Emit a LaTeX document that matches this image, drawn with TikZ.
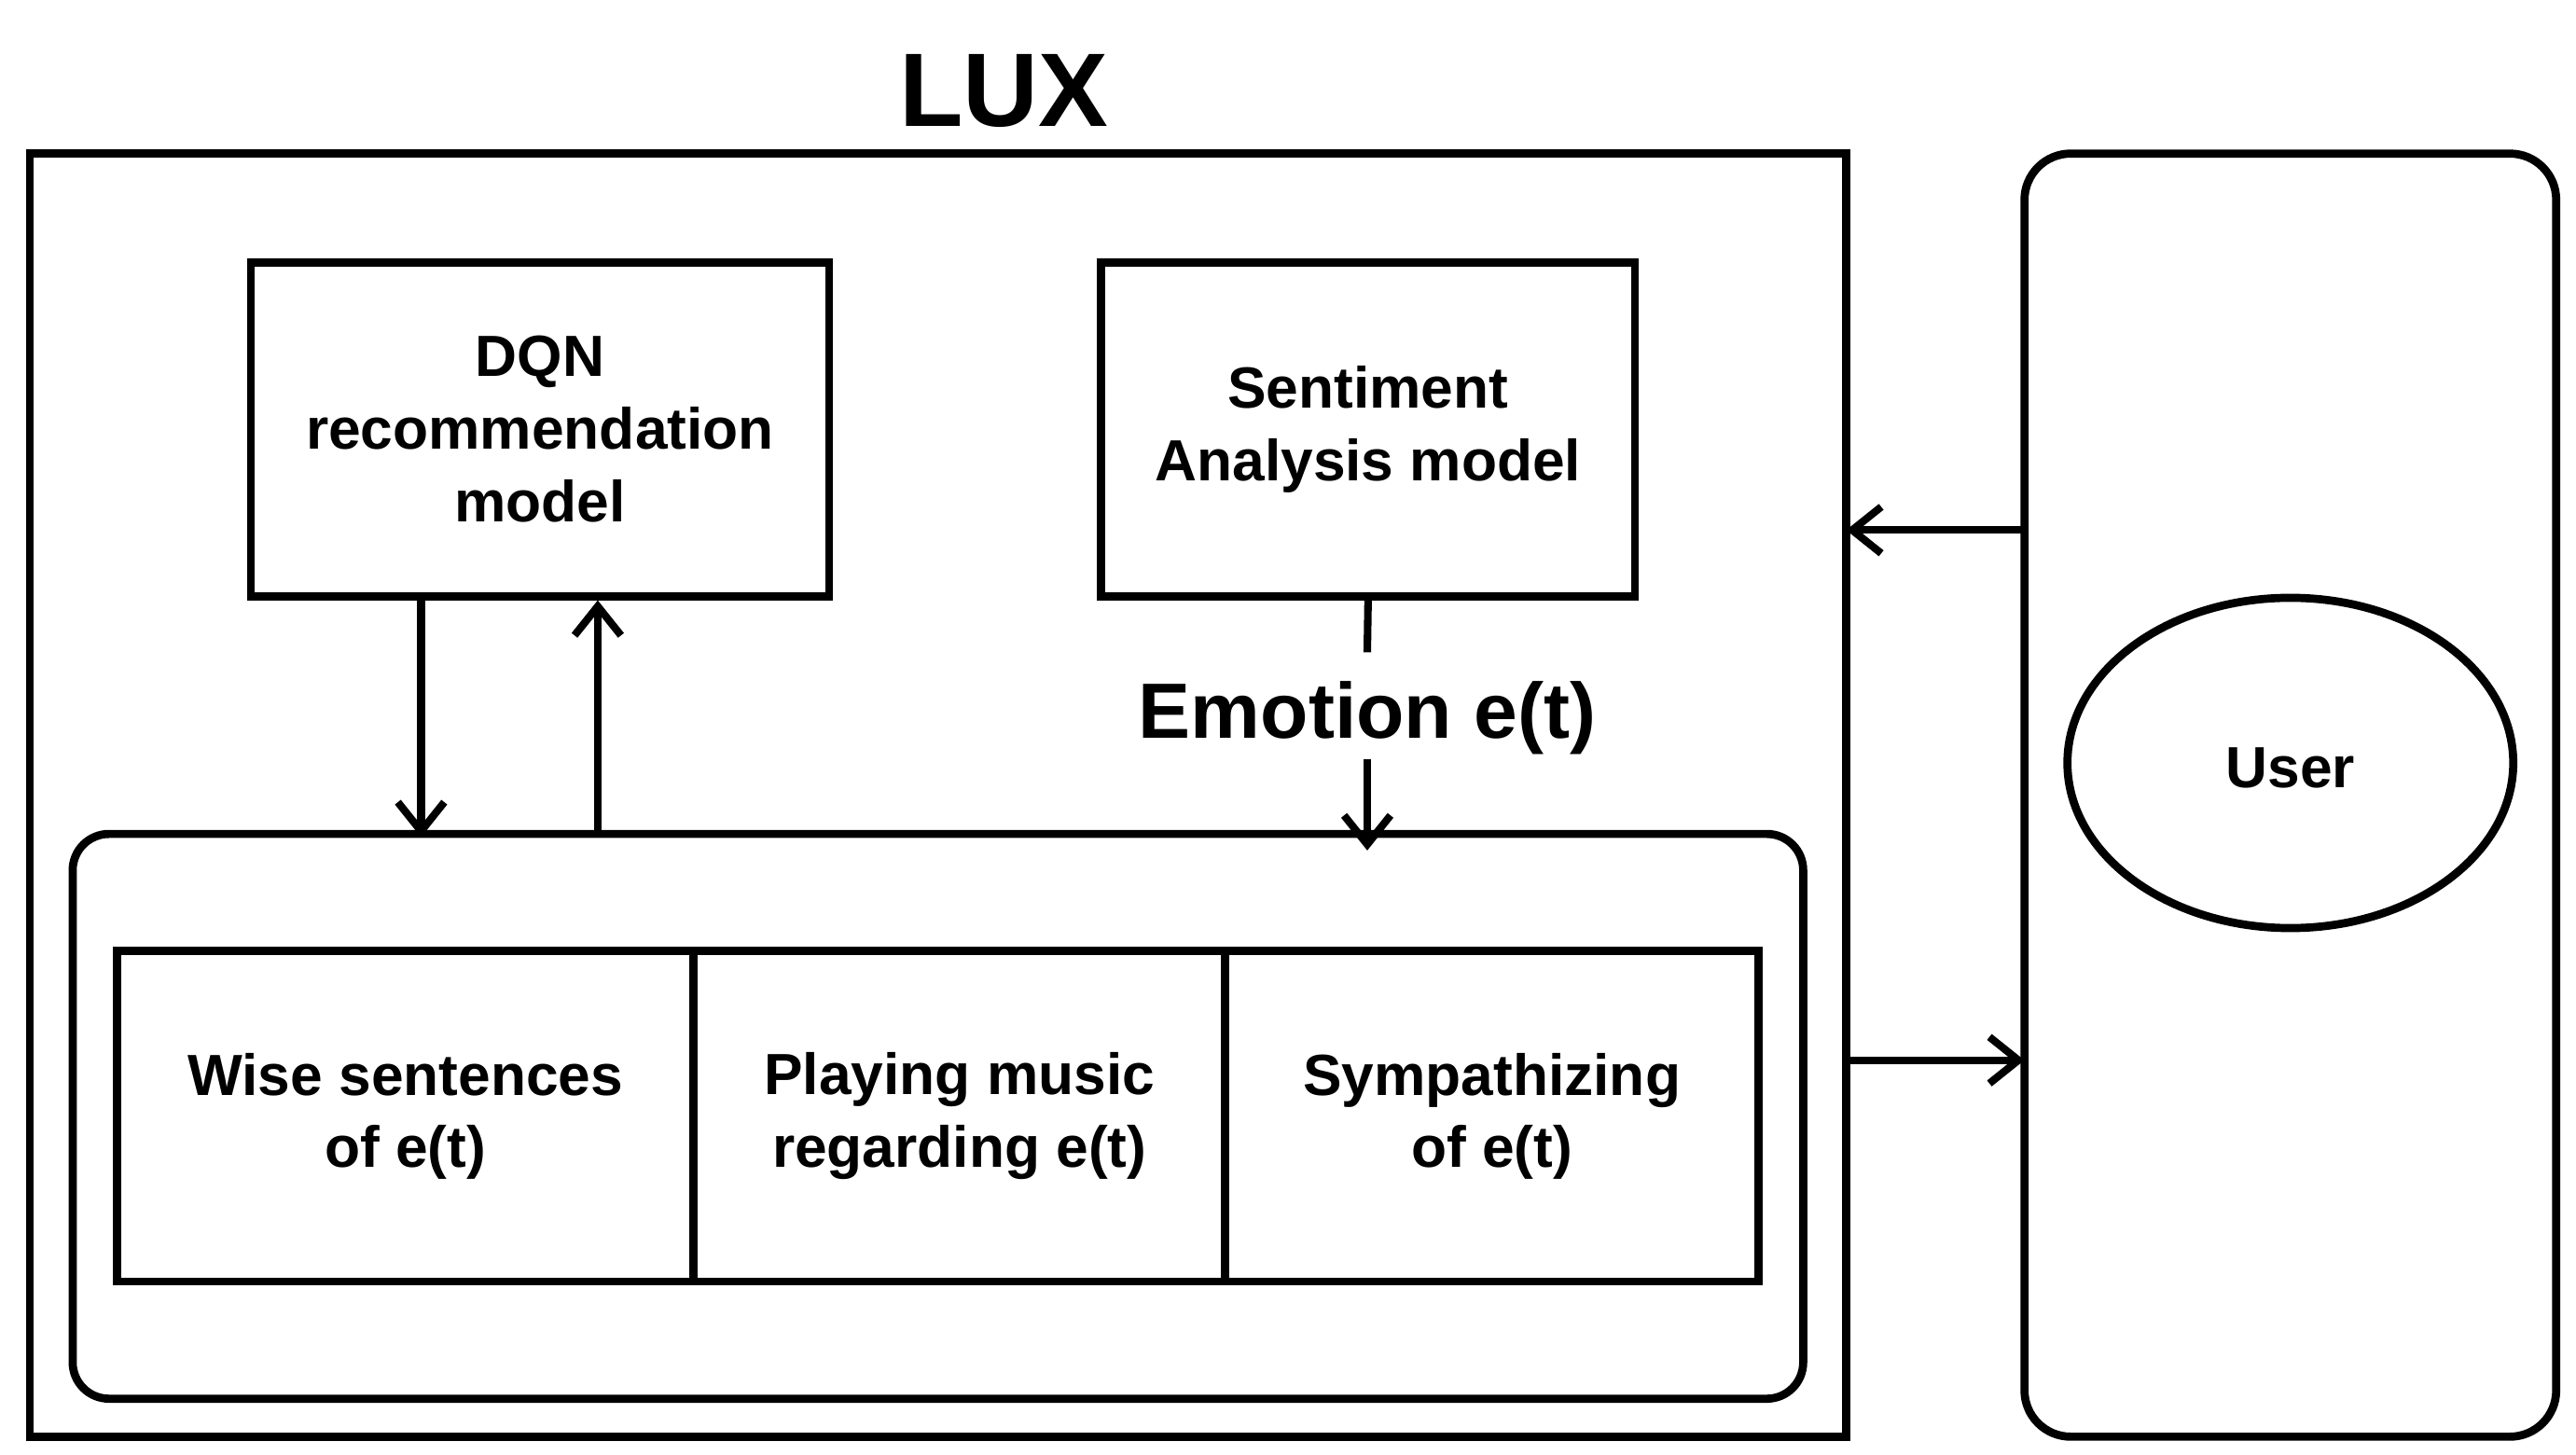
\documentclass[tikz,border=0pt]{standalone}
\usepackage{fontspec}
\setmainfont{Liberation Sans}
\usetikzlibrary{arrows.meta}
\begin{document}
\begin{tikzpicture}[x=0.01cm,y=-0.01cm,
  bx/.style={draw,line width=1.4pt},
  lbl/.style={font=\bfseries\fontsize{10}{12.5}\selectfont,align=center},
  arr/.style={line width=1.3pt,-{Straight Barb[length=5pt,width=8pt]}}]
\useasboundingbox (0,0) rectangle (1560,881);
\node[font=\bfseries\fontsize{18}{20}\selectfont] (lux) at (608,55) {LUX};
\draw[bx] (18,93) rectangle (1118,870);
\coordinate (luxR1) at (1118,321);
\coordinate (luxR2) at (1118,642);
\draw[bx,rounded corners=0.28cm] (1226,93) rectangle (1548,870);
\coordinate (usrL1) at (1226,321);
\coordinate (usrL2) at (1226,642);
\draw[bx] (1387,462) ellipse [x radius=135,y radius=100];
\node[lbl] (user) at (1387,465) {User};
\node[bx,lbl,minimum width=3.5cm,minimum height=2.02cm,inner sep=0] (dqn) at (327,260) {DQN\\recommendation\\model};
\node[bx,lbl,minimum width=3.23cm,minimum height=2.02cm,inner sep=0] (sa) at (828.5,260) {Sentiment\\Analysis model};
\draw[bx,rounded corners=0.22cm] (44,505) rectangle (1092,847);
\node[bx,lbl,minimum width=3.49cm,minimum height=2cm,inner sep=0] (w) at (245.5,676) {Wise sentences\\of e(t)};
\node[bx,lbl,minimum width=3.22cm,minimum height=2cm,inner sep=0] (p) at (581,676) {Playing music\\regarding e(t)};
\node[bx,lbl,minimum width=3.23cm,minimum height=2cm,inner sep=0] (s) at (903.5,676) {Sympathizing\\of e(t)};
\node[font=\bfseries\fontsize{13.5}{16}\selectfont] (emo) at (828,435) {Emotion e(t)};
\coordinate (in1) at (255,507);
\coordinate (in2) at (362,505);
\coordinate (in3) at (828,515);
\draw[arr] (dqn.south -| in1) -- (in1);
\draw[arr] (in2) -- (dqn.south -| in2);
\draw[line width=1.3pt] (sa.south) -- (828,395);
\draw[arr] (828,460) -- (in3);
\draw[arr] (usrL1) -- (luxR1);
\draw[arr] (luxR2) -- (usrL2);
\end{tikzpicture}
\end{document}
